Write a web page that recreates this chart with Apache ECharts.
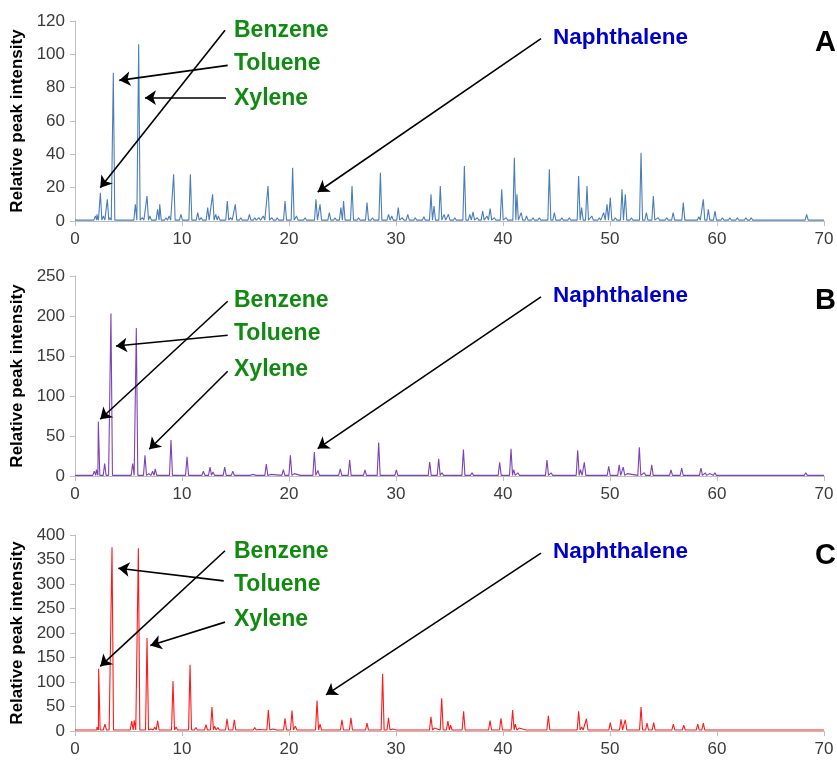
<!DOCTYPE html>
<html>
<head>
<meta charset="utf-8">
<script src="https://cdn.jsdelivr.net/npm/echarts@6/dist/echarts.min.js"></script>
<style>
  html, body { margin: 0; padding: 0; background: #fff; }
  #chart { width: 837px; height: 760px; }
</style>
</head>
<body>
<div id="chart"></div>
<script>
// Retention time (min) and relative intensity of each resolved peak, per sample.
const timesA = [1.9, 2.05, 2.37, 2.65, 3.02, 3.25, 3.58, 4.2, 5.0, 5.64, 5.95, 6.3, 6.73, 7.0, 7.72, 7.92, 8.5, 8.8, 9.22, 9.9,
  10.78, 11.47, 11.8, 12.4, 12.86, 13.15, 13.4, 14.23, 14.55, 14.98, 15.5, 16.3, 16.8, 17.2, 17.6, 18.04, 18.4, 18.9, 19.63, 20.34,
  20.7, 21.5, 22.52, 22.9, 23.77, 24.3, 24.85, 25.1, 25.89, 26.5, 27.29, 27.8, 28.54, 29.3, 29.6, 30.21, 30.6, 31.1, 31.8, 32.6,
  33.27, 33.55, 34.14, 34.5, 34.9, 35.5, 36.39, 36.9, 37.2, 37.6, 38.1, 38.5, 38.8, 39.2, 39.88, 40.3, 41.06, 41.3, 41.7, 42.2,
  42.8, 43.4, 44.33, 44.8, 45.5, 46.2, 47.07, 47.35, 47.85, 48.3, 49.0, 49.41, 49.72, 50.03, 50.5, 51.12, 51.43, 52.0, 52.9, 53.4,
  54.05, 54.5, 55.3, 55.9, 56.85, 57.5, 58.3, 58.72, 59.19, 59.81, 60.5, 61.2, 61.9, 62.7, 63.2, 64.5, 65.5, 66.8, 68.38, 69.1];
const heightsA = [3, 4, 17, 3, 13, 2, 89, 1.5, 1.5, 10, 106, 2, 15, 3, 7, 10, 2, 3, 28, 4,
  28, 5, 2, 8, 16, 4, 3, 12, 2, 10, 2, 4, 2, 2, 3, 21, 2, 2, 12, 32,
  3, 2, 13, 10, 5, 2, 8, 12, 21, 2, 11, 2, 29, 4, 3, 8, 2, 4, 2, 2.5,
  16, 9, 21, 4, 4, 2, 33, 4, 5.5, 2, 6, 3, 7.5, 2, 19, 2, 38, 16, 5, 3,
  2, 2, 31, 5, 2, 2, 27, 8, 21, 3, 2, 5, 10, 14, 2, 19, 16, 2, 41, 5,
  15, 2, 2, 5, 11, 1.5, 2.5, 13, 7, 6, 2, 2, 2, 2, 2, 1.5, 1, 1, 4, 1.5];

const timesB = [1.8, 2.0, 2.18, 2.5, 2.77, 3.0, 3.36, 5.39, 5.73, 6.0, 6.54, 6.9, 7.25, 7.5, 8.5, 8.97, 9.6, 10.47, 11.2, 12.0,
  12.62, 12.9, 13.2, 13.99, 14.75, 15.5, 16.2, 16.6, 17.1, 17.88, 18.3, 19.47, 20.13, 20.5, 21.2, 22.37, 22.7, 23.6, 24.5, 24.79,
  25.67, 26.3, 27.1, 28.38, 28.9, 30.03, 31.0, 32.0, 33.15, 33.99, 34.3, 35.0, 36.3, 37.1, 37.8, 38.6, 39.69, 40.75, 41.0, 41.4,
  42.5, 44.11, 44.5, 45.5, 46.98, 47.25, 47.6, 48.5, 49.88, 50.86, 51.24, 51.6, 52.74, 53.2, 53.9, 54.4, 55.7, 56.7, 57.4, 58.5,
  58.9, 59.3, 59.8, 60.3, 61.6, 63.0, 65.0, 68.3];
const heightsB = [6, 8, 68, 3, 15.5, 2, 203, 15.5, 185, 2, 26, 3, 6, 9, 3, 45, 2, 24, 2, 6,
  11, 5, 3, 11, 6, 1.5, 2, 2, 2, 15, 2, 8, 26, 3, 2, 30, 7, 2, 3, 9,
  20, 2, 7.5, 42, 2, 7.5, 2, 2, 17.5, 21.5, 4, 2, 33, 4, 2, 3, 17, 34, 8, 4,
  2, 20, 4, 2, 32, 8, 17, 2, 12, 14, 11, 3, 36, 4, 14, 2, 7.5, 10, 2, 10,
  4, 3, 4, 3, 1.5, 1.5, 1, 4];

const timesC = [1.9, 2.05, 2.21, 2.5, 2.8, 3.05, 3.46, 5.3, 5.54, 5.92, 6.2, 6.73, 7.1, 7.45, 7.72, 8.6, 9.16, 9.45, 10.2, 10.75,
  11.3, 12.24, 12.8, 13.05, 13.35, 14.21, 14.89, 15.2, 16.0, 16.8, 17.2, 18.07, 18.5, 19.0, 19.63, 20.28, 20.6, 21.3, 22.62, 22.9,
  23.8, 24.95, 25.79, 26.5, 27.29, 28.0, 28.75, 29.3, 29.7, 30.2, 31.0, 32.0, 32.8, 33.27, 33.6, 34.27, 34.85, 35.1, 35.8, 36.32,
  36.8, 37.4, 38.0, 38.79, 39.81, 40.9, 41.15, 41.5, 42.3, 43.3, 44.24, 44.8, 45.5, 46.3, 47.07, 47.35, 47.8, 48.5, 49.2, 49.5,
  50.03, 50.5, 51.03, 51.43, 52.0, 52.9, 53.46, 54.08, 54.6, 55.2, 55.92, 56.4, 56.89, 57.6, 58.2, 58.72, 59.2, 59.8, 60.5, 61.5,
  62.7, 63.3, 65.0, 68.47];
const heightsC = [6, 8, 127, 5, 14, 4, 375, 20, 22, 373, 4, 190, 4, 8, 21, 5, 102, 8, 3, 135,
  7, 13, 49, 10, 7, 25, 23, 5, 3, 7, 3, 43, 4, 3, 26, 42, 10, 3, 62, 14,
  5, 23, 27, 3, 16, 3, 117, 27, 4, 6, 3, 3, 3, 29, 6, 67, 20, 12, 4, 40,
  4, 4, 4, 21, 26, 43, 14, 6, 3, 3, 31, 4, 3, 3, 40, 8, 25, 3, 6, 5,
  17, 3, 24, 23, 3, 49, 16, 17, 3, 3, 14, 3, 12, 3, 14, 16, 5, 4, 3, 2,
  2, 2, 1.5, 6];

// Axis ranges and tick steps
const xRange = [0, 70];
const xStep = 10;
const yMax = [120, 250, 400];
const yStep = [20, 50, 50];

// Callout arrows in data coordinates: [tail, head]
const arrowsA = [[[14.02, 114.4], [2.36, 20]], [[14.27, 93.4], [4.14, 84.4]], [[14.11, 74], [6.54, 74]], [[43.55, 109.4], [22.68, 17.4]]];
const arrowsB = [[[14.27, 218.4], [2.36, 70.9]], [[14.27, 175.9], [3.83, 162.5]], [[14.27, 130.9], [6.94, 33.4]], [[43.55, 223.8], [22.68, 34.3]]];
const arrowsC = [[[14.02, 367.8], [2.36, 131.9]], [[13.9, 306.3], [4.05, 332.3]], [[14.02, 222.2], [7.04, 174.4]], [[43.55, 363], [23.46, 73.8]]];

const compounds = ['Benzene', 'Toluene', 'Xylene'];
const marker = 'Naphthalene';
const panelLetters = ['A', 'B', 'C'];

// Each peak is drawn as a narrow spike rising from the baseline.
const HALF_WIDTH = 0.14;
function trace(times, heights, base) {
  const pts = [[xRange[0], base]];
  times.forEach((t, i) => {
    pts.push([t - HALF_WIDTH, base], [t, heights[i]], [t + HALF_WIDTH, base]);
  });
  pts.push([xRange[1], base]);
  return pts;
}

const panels = [
  { times: timesA, heights: heightsA, base: 0.5, color: '#4a7ebb', arrows: arrowsA, top: 21, height: 200 },
  { times: timesB, heights: heightsB, base: 0.8, color: '#7c42b8', arrows: arrowsB, top: 276, height: 200 },
  { times: timesC, heights: heightsC, base: 2, color: '#ff1a1a', arrows: arrowsC, top: 535, height: 196 }
];

const FONT = 'Liberation Sans, Arial, Helvetica, sans-serif';
const axisGray = '#bfbfbf';

const grid = [], xAxis = [], yAxis = [], series = [], graphic = [];
// vertical centres of label rows in each panel
const rowY = [[30.5, 64, 98.3], [300.3, 334, 369.3], [551.7, 584.3, 620]];
const markerY = [38, 296, 552];
const letterY = [42.5, 301, 555.5];

panels.forEach((p, i) => {
  grid.push({ left: 75, right: 13, top: p.top, height: p.height });
  xAxis.push({
    type: 'value', gridIndex: i, min: xRange[0], max: xRange[1], interval: xStep,
    axisLine: { show: true, lineStyle: { color: axisGray, width: 1 } },
    axisTick: { show: true, length: 5, lineStyle: { color: axisGray } },
    axisLabel: { color: '#3a3a3a', fontSize: 17, fontFamily: FONT, margin: 10 },
    splitLine: { show: false }
  });
  yAxis.push({
    type: 'value', gridIndex: i, min: 0, max: yMax[i], interval: yStep[i],
    name: 'Relative peak intensity', nameLocation: 'middle', nameGap: 47, nameRotate: 90,
    nameTextStyle: { color: '#000', fontSize: 17, fontWeight: 'bold', fontFamily: FONT },
    axisLine: { show: true, lineStyle: { color: axisGray, width: 1 } },
    axisTick: { show: true, length: 5, lineStyle: { color: axisGray } },
    axisLabel: { color: '#3a3a3a', fontSize: 17, fontFamily: FONT, margin: 10 },
    splitLine: { show: false }
  });
  series.push({
    type: 'line', xAxisIndex: i, yAxisIndex: i,
    data: trace(p.times, p.heights, p.base),
    showSymbol: false, symbol: 'none',
    lineStyle: { color: p.color, width: 1.1 },
    silent: true,
    markLine: {
      silent: true, symbol: ['none', 'arrow'], symbolSize: 11,
      lineStyle: { color: '#000', width: 1.6, type: 'solid' },
      label: { show: false },
      emphasis: { disabled: true },
      data: p.arrows.map(a => [{ coord: a[0] }, { coord: a[1] }])
    }
  });
  compounds.forEach((name, k) => {
    graphic.push({
      type: 'text', x: 234, y: rowY[i][k],
      style: { text: name, font: 'bold 23px ' + FONT, fill: '#108a10', verticalAlign: 'middle' }
    });
  });
  graphic.push({
    type: 'text', x: 553, y: markerY[i],
    style: { text: marker, font: 'bold 22.5px ' + FONT, fill: '#0000cc', verticalAlign: 'middle' }
  });
  graphic.push({
    type: 'text', x: 815, y: letterY[i],
    style: { text: panelLetters[i], font: 'bold 29px ' + FONT, fill: '#000', verticalAlign: 'middle' }
  });
});

const chart = echarts.init(document.getElementById('chart'), null, { renderer: 'canvas' });
chart.setOption({
  animation: false,
  backgroundColor: '#fff',
  grid, xAxis, yAxis, series, graphic
});
</script>
</body>
</html>
